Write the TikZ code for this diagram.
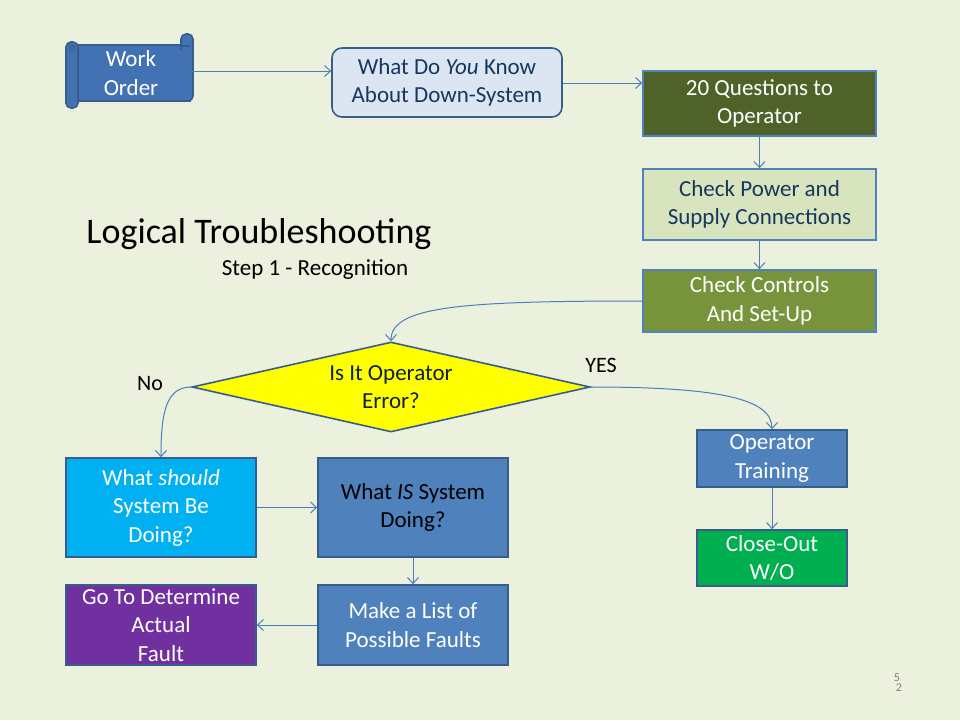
\documentclass[tikz,border=0pt]{standalone}
\usepackage{fontspec}
\setmainfont{Carlito}
\usetikzlibrary{shapes.geometric,arrows.meta}
\definecolor{bg}{RGB}{236,241,222}
\definecolor{conn}{RGB}{74,126,187}
\definecolor{bord}{RGB}{56,93,138}
\definecolor{bordl}{RGB}{79,129,189}
\definecolor{midblue}{RGB}{79,129,189}
\definecolor{scrollblue}{RGB}{66,114,180}
\definecolor{knowfill}{RGB}{220,230,242}
\definecolor{navy}{RGB}{23,55,94}
\definecolor{olive}{RGB}{79,98,40}
\definecolor{palegreen}{RGB}{215,228,189}
\definecolor{midgreen}{RGB}{119,147,60}
\definecolor{cyanfill}{RGB}{0,176,240}
\definecolor{purplefill}{RGB}{112,48,160}
\definecolor{greenfill}{RGB}{0,176,80}
\definecolor{yellowfill}{RGB}{255,255,0}
\begin{document}
\begin{tikzpicture}[x=1pt,y=-1pt,
  box/.style={draw=bord, line width=1.6pt, align=center, inner sep=0pt,
    font=\fontsize{23}{28.5}\selectfont},
  conn/.style={draw=conn, line width=1pt, -{Straight Barb[length=6pt,width=11pt]}},
  lbl/.style={font=\fontsize{22}{26}\selectfont, inner sep=0pt}]
\fill[bg] (0,0) rectangle (960,720);
\useasboundingbox (0,0) rectangle (960,720);
% scroll shape for Work Order
\filldraw[fill=scrollblue, draw=bord, line width=1.6pt] (74,45) rectangle (190,101);
\filldraw[fill=scrollblue, draw=bord, line width=1.6pt, rounded corners=5pt] (181,34) -- (193,34) -- (193,101) -- (181,101) -- cycle;
\fill[scrollblue] (180,50) rectangle (189.5,100);
\filldraw[fill=scrollblue, draw=bord, line width=1.6pt, rounded corners=5pt] (66,42) -- (78,42) -- (78,108) -- (66,108) -- cycle;
\draw[bord, line width=1.2pt] (181,46) -- (190,46);
\draw[bord, line width=1.2pt] (72,48) circle (2.5pt);
\node[lbl, align=center, text=white, font=\fontsize{23}{28.5}\selectfont, minimum width=118pt, minimum height=60pt] (wo) at (131,73) {Work\\Order};
% boxes
\node[box, fill=knowfill, text=navy, rounded corners=10pt, minimum width=230pt, minimum height=69pt] (know) at (447,82.5) {What Do \textit{You} Know\\About Down-System};
\node[box, draw=bordl, fill=olive, text=white, minimum width=233pt, minimum height=65pt] (q20) at (759.5,103.5) {20 Questions to\\Operator};
\node[box, draw=bordl, fill=palegreen, text=navy, minimum width=233pt, minimum height=71pt] (power) at (759.5,204.5) {Check Power and\\Supply Connections};
\node[box, draw=bordl, fill=midgreen, text=white, minimum width=233pt, minimum height=62pt] (ctrl) at (759.5,301) {Check Controls\\And Set-Up};
\node[box, diamond, fill=yellowfill, text=navy!60!black, aspect=4.4, minimum width=398pt, minimum height=90pt] (dia) at (391,387) {Is It Operator\\Error?};
\node[box, fill=cyanfill, text=white, minimum width=190pt, minimum height=99pt] (ws) at (161,507.5) {What \textit{should}\\System Be\\Doing?};
\node[box, fill=midblue, text=black, minimum width=190pt, minimum height=99pt] (wis) at (413,507.5) {What \textit{IS} System\\Doing?};
\node[box, fill=midblue, text=white, minimum width=190pt, minimum height=80pt] (list) at (413,625) {Make a List of\\Possible Faults};
\node[box, fill=purplefill, text=white, minimum width=190pt, minimum height=80pt] (goto) at (161,625) {Go To Determine\\Actual\\Fault};
\node[box, fill=midblue, text=white, minimum width=150pt, minimum height=57pt] (opt) at (772,458.5) {Operator\\Training};
\node[box, fill=greenfill, text=white, minimum width=150pt, minimum height=56pt] (close) at (772,558) {Close-Out\\W/O};
% titles
\node[inner sep=0pt, font=\fontsize{36}{40}\selectfont] (title) at (259,234) {Logical Troubleshooting};
\node[inner sep=0pt, font=\fontsize{23}{27}\selectfont] (step) at (315,270) {Step 1 - Recognition};
\node[lbl] (no) at (150,384) {No};
\node[lbl] (yes) at (601,365) {YES};
\node[inner sep=0pt, text=gray, font=\fontsize{12}{12}\selectfont] (p5) at (897,678) {5};
\node[inner sep=0pt, text=gray, font=\fontsize{12}{12}\selectfont] (p2) at (899,688) {2};
% connectors
\draw[conn] (wo.east |- 0,71) -- (know.west |- 0,71);
\draw[conn] (know.east |- 0,83) -- (q20.west |- 0,83);
\draw[conn] (q20.south) -- (power.north);
\draw[conn] (power.south) -- (ctrl.north);
\draw[conn] (ctrl.west) .. controls +(-180,0) and +(0,-35) .. (dia.north);
\draw[conn] (dia.west) .. controls +(-25,0) and +(0,-45) .. (ws.north);
\draw[conn] (dia.east) .. controls +(130,0) and +(0,-30) .. (opt.north);
\draw[conn] (ws.east) -- (wis.west);
\draw[conn] (wis.south) -- (list.north);
\draw[conn] (list.west) -- (goto.east);
\draw[conn] (opt.south) -- (close.north);
\end{tikzpicture}
\end{document}
